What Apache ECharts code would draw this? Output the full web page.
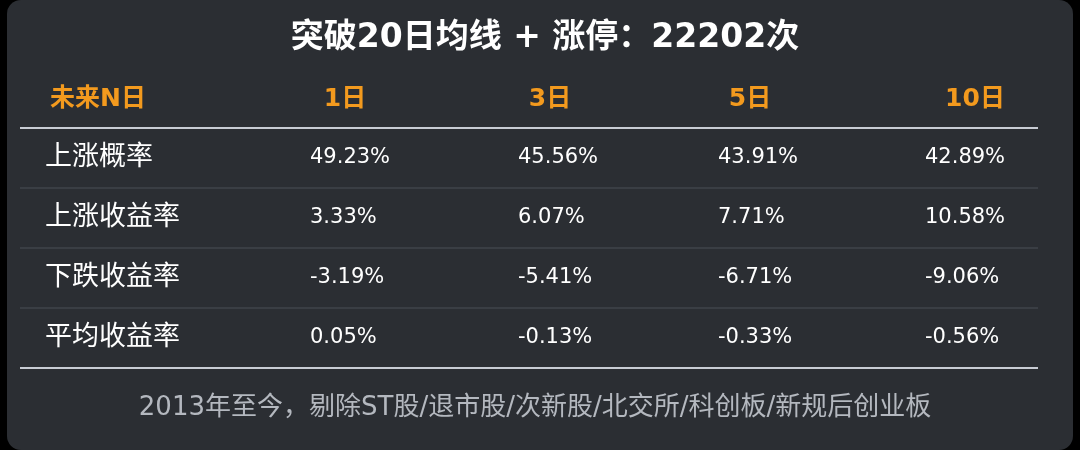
<!DOCTYPE html>
<html><head><meta charset="utf-8">
<script src="https://cdn.jsdelivr.net/npm/echarts@6/dist/echarts.min.js"></script>
<style>html,body{margin:0;padding:0;background:#000;}#c{width:1080px;height:450px;}</style>
</head><body><div id="c"></div>
<script>
const title = '突破20日均线 + 涨停：22202次';
const headers = ['未来N日', '1日', '3日', '5日', '10日'];
const rowLabels = ['上涨概率', '上涨收益率', '下跌收益率', '平均收益率'];
const col1 = ['49.23%', '3.33%', '-3.19%', '0.05%'];
const col3 = ['45.56%', '6.07%', '-5.41%', '-0.13%'];
const col5 = ['43.91%', '7.71%', '-6.71%', '-0.33%'];
const col10 = ['42.89%', '10.58%', '-9.06%', '-0.56%'];
const footer = '2013年至今，剔除ST股/退市股/次新股/北交所/科创板/新规后创业板';

const F = '"DejaVu Sans", "Noto Sans CJK SC", sans-serif';
const cols = [col1, col3, col5, col10];
const colX = [310, 518, 718, 925];
const headX = [345, 550, 750, 975];
const rowY = [158, 218, 278, 338];
const g = [];
g.push({type:'rect', shape:{x:7,y:0,width:1066,height:450,r:14}, style:{fill:'#2b2e33'}});
g.push({type:'text', x:545, y:38, style:{text:title, fill:'#ffffff', font:'bold 33px '+F, align:'center', verticalAlign:'middle'}});
g.push({type:'text', x:50, y:99, style:{text:headers[0], fill:'#f39a1e', font:'bold 25px '+F, verticalAlign:'middle'}});
for (let i=1;i<headers.length;i++) g.push({type:'text', x:headX[i-1], y:99, style:{text:headers[i], fill:'#f39a1e', font:'bold 25px '+F, align:'center', verticalAlign:'middle'}});
g.push({type:'line', shape:{x1:20,y1:128,x2:1038,y2:128}, style:{stroke:'#c8ccd4', lineWidth:2}});
for (let r=0;r<rowLabels.length;r++){
  g.push({type:'text', x:45, y:rowY[r], style:{text:rowLabels[r], fill:'#ffffff', font:'27px '+F, verticalAlign:'middle'}});
  for (let c=0;c<cols.length;c++) g.push({type:'text', x:colX[c], y:rowY[r], style:{text:cols[c][r], fill:'#ffffff', font:'21px '+F, verticalAlign:'middle'}});
  if (r<rowLabels.length-1) g.push({type:'line', shape:{x1:20,y1:rowY[r]+30,x2:1038,y2:rowY[r]+30}, style:{stroke:'#4a4e56', lineWidth:1}});
}
g.push({type:'line', shape:{x1:20,y1:368,x2:1038,y2:368}, style:{stroke:'#c8ccd4', lineWidth:2}});
g.push({type:'text', x:535, y:408, style:{text:footer, fill:'#b4b8bf', font:'26px '+F, align:'center', verticalAlign:'middle'}});
const chart = echarts.init(document.getElementById('c'));
chart.setOption({backgroundColor:'#000', graphic:g});
</script></body></html>
